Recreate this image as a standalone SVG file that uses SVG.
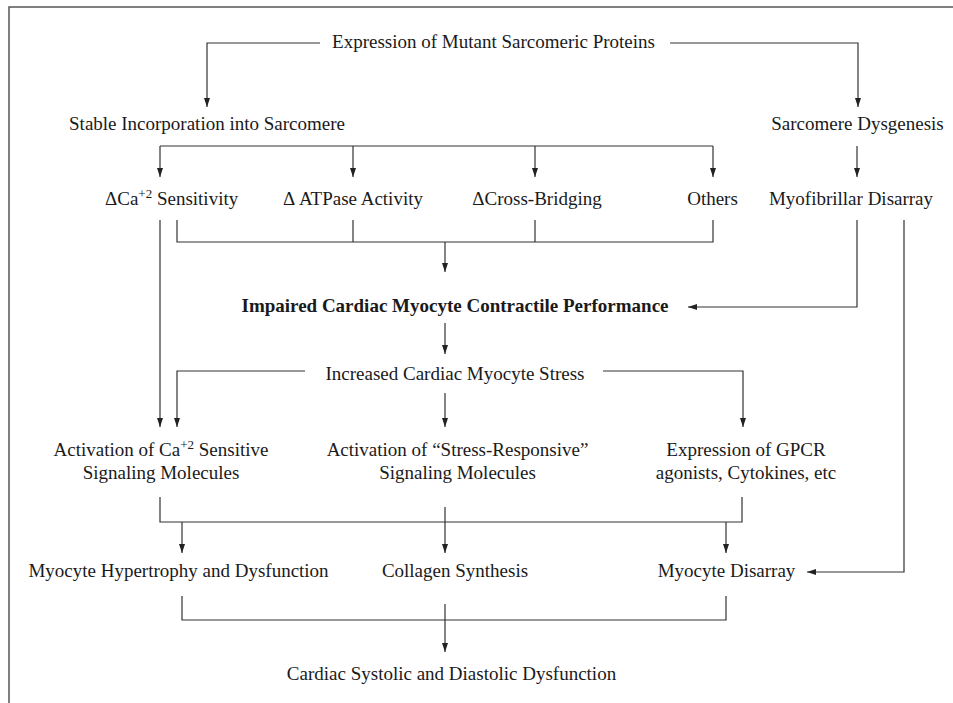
<svg xmlns="http://www.w3.org/2000/svg" width="953" height="703" viewBox="0 0 953 703">
<style>
text{font-family:"Liberation Serif","Times New Roman",serif;font-size:19px;fill:#1a1a1a;text-anchor:middle}
.b{font-weight:bold}
.s{text-anchor:start}
.c{fill:none;stroke:#333;stroke-width:1.2}
.a{marker-end:url(#ah)}
.fr{fill:none;stroke:#555;stroke-width:1.5}
</style>
<defs>
<marker id="ah" markerUnits="userSpaceOnUse" markerWidth="10" markerHeight="8" refX="9" refY="3" orient="auto">
<path d="M0,0 L9,3 L0,6 Z" fill="#222"/>
</marker>
</defs>
<rect width="953" height="703" fill="#fff"/>
<path class="fr" d="M9,703 V7 H953"/>
<g id="connectors">
<path class="c a" d="M320,43 H207 V107"/>
<path class="c a" d="M670,43 H858 V107"/>
<path class="c" d="M160,146 H713"/>
<path class="c a" d="M160,146 V177"/>
<path class="c a" d="M353,146 V177"/>
<path class="c a" d="M535,146 V177"/>
<path class="c a" d="M713,146 V177"/>
<path class="c a" d="M857,146 V177"/>
<path class="c" d="M177,220 V242 H713 V220 M353,220 V242 M535,220 V242"/>
<path class="c a" d="M445,242 V272"/>
<path class="c a" d="M160,220 V427"/>
<path class="c a" d="M857,220 V307 H688"/>
<path class="c a" d="M904,220 V572 H807"/>
<path class="c a" d="M445,323 V354"/>
<path class="c a" d="M305,371 H177 V427"/>
<path class="c a" d="M445,393 V427"/>
<path class="c a" d="M603,371 H743 V427"/>
<path class="c" d="M160,497 V522 H742 V497"/>
<path class="c a" d="M445,507 V553"/>
<path class="c a" d="M182,522 V553"/>
<path class="c a" d="M726,522 V553"/>
<path class="c" d="M182,596 V620 H726 V596"/>
<path class="c a" d="M445,604 V652"/>
</g>
<g id="n-expression"><text x="493.5" y="48">Expression of Mutant Sarcomeric Proteins</text></g>
<g id="n-stable"><text x="207" y="130">Stable Incorporation into Sarcomere</text></g>
<g id="n-dysgenesis"><text x="857.5" y="130">Sarcomere Dysgenesis</text></g>
<g id="n-ca-sens"><text class="s" x="105" y="205">ΔCa<tspan dy="-7" font-size="13">+2</tspan><tspan dy="7"> Sensitivity</tspan></text></g>
<g id="n-atpase"><text x="353" y="205">Δ ATPase Activity</text></g>
<g id="n-crossbridging"><text x="537" y="205">ΔCross-Bridging</text></g>
<g id="n-others"><text x="712.5" y="205">Others</text></g>
<g id="n-myofibrillar"><text x="851" y="205">Myofibrillar Disarray</text></g>
<g id="n-impaired"><text class="b" x="455" y="312">Impaired Cardiac Myocyte Contractile Performance</text></g>
<g id="n-stress"><text x="455" y="380">Increased Cardiac Myocyte Stress</text></g>
<g id="n-act-ca"><text x="161" y="456">Activation of Ca<tspan dy="-7" font-size="13">+2</tspan><tspan dy="7"> Sensitive</tspan></text><text x="161" y="479">Signaling Molecules</text></g>
<g id="n-act-stress"><text x="457.5" y="456">Activation of “Stress-Responsive”</text><text x="457.5" y="479">Signaling Molecules</text></g>
<g id="n-gpcr"><text x="746" y="456">Expression of GPCR</text><text x="746" y="479">agonists, Cytokines, etc</text></g>
<g id="n-hypertrophy"><text x="178.5" y="577">Myocyte Hypertrophy and Dysfunction</text></g>
<g id="n-collagen"><text x="455" y="577">Collagen Synthesis</text></g>
<g id="n-disarray"><text x="726.5" y="577">Myocyte Disarray</text></g>
<g id="n-dysfunction"><text x="451.5" y="680">Cardiac Systolic and Diastolic Dysfunction</text></g>
</svg>
